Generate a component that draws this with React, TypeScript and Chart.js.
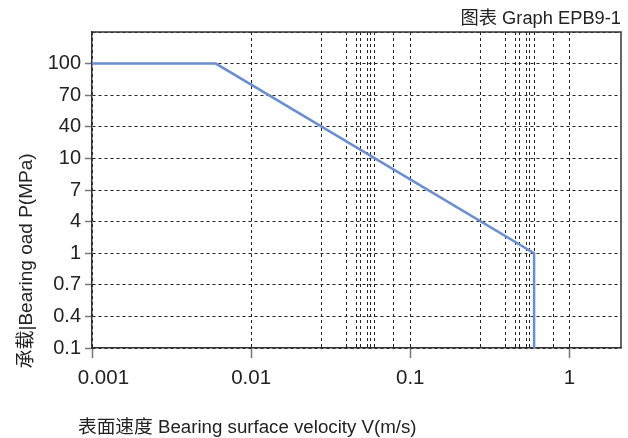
import React, { useEffect, useRef } from 'react';
import { Chart, registerables } from 'chart.js';

Chart.register(...registerables);

// ---- data ----
const velocity = [0.001, 0.006, 0.6, 0.6];
const bearingLoad = [100, 100, 1, 0.1];
const yTickValues = [0.1, 0.4, 0.7, 1, 4, 7, 10, 40, 70, 100];
const xMajorTicks = [0.001, 0.01, 0.1, 1];
const xTickLabels = ['0.001', '0.01', '0.1', '1'];
const xMinorTicks = [
  0.0275, 0.0395, 0.046, 0.0485, 0.054, 0.0565, 0.06, 0.079,
  0.275, 0.395, 0.46, 0.485, 0.54, 0.565, 0.6, 0.79,
];
const chartTitle = '图表 Graph EPB9-1';
const xTitle = '表面速度 Bearing surface velocity V(m/s)';
const yTitle = '承载|Bearing oad P(MPa)';
const X_MIN = 0.001;
const X_MAX = 2.11;

const FONT = '"Liberation Sans", Arial, "Noto Sans CJK SC", sans-serif';
const TRANSPARENT = 'rgba(0,0,0,0)';

const decor = {
  id: 'decor',
  afterDraw(chart: any) {
    const { ctx, chartArea: a } = chart;
    ctx.save();
    ctx.strokeStyle = '#333';
    ctx.lineWidth = 1.5;
    ctx.setLineDash([]);
    ctx.beginPath();
    ctx.moveTo(a.left, a.top);
    ctx.lineTo(a.right, a.top);
    ctx.lineTo(a.right, a.bottom);
    ctx.stroke();

    ctx.fillStyle = '#222';
    ctx.textBaseline = 'alphabetic';
    ctx.font = `18.3px ${FONT}`;
    ctx.textAlign = 'right';
    ctx.fillText(chartTitle, 621, 24);

    ctx.font = `18.7px ${FONT}`;
    ctx.textAlign = 'left';
    ctx.fillText(xTitle, 78, 433);

    ctx.font = `19px ${FONT}`;
    ctx.translate(32, 261);
    ctx.rotate(-Math.PI / 2);
    ctx.textAlign = 'center';
    ctx.fillText(yTitle, 0, 0);
    ctx.restore();
  },
};

export default function App() {
  const ref = useRef<HTMLCanvasElement | null>(null);

  useEffect(() => {
    if (!ref.current) return;
    const points = velocity.map((v, i) => ({
      x: v,
      y: yTickValues.indexOf(bearingLoad[i]),
    }));
    const allX = [...xMajorTicks, ...xMinorTicks].sort((a, b) => a - b);

    const chart = new Chart(ref.current, {
      type: 'line',
      data: {
        datasets: [
          {
            data: points,
            borderColor: '#6b8ecf',
            borderWidth: 2.5,
            pointRadius: 0,
            fill: false,
            tension: 0,
          },
        ],
      },
      options: {
        responsive: false,
        animation: false,
        events: [],
        layout: { padding: { top: 32, right: 7, left: 0, bottom: 0 } },
        plugins: {
          legend: { display: false },
          tooltip: { enabled: false },
          title: { display: false },
        },
        scales: {
          x: {
            type: 'logarithmic',
            min: X_MIN,
            max: X_MAX,
            afterBuildTicks: (s: any) => {
              s.ticks = allX.map((v) => ({ value: v }));
            },
            afterFit: (s: any) => {
              s.height = 90;
            },
            grid: {
              color: '#222',
              lineWidth: 1,
              tickLength: 10,
              tickWidth: 1.5,
              tickBorderDash: [],
              tickColor: (c: any) =>
                c.tick && xMajorTicks.includes(c.tick.value) ? '#777' : TRANSPARENT,
            },
            border: { display: true, color: '#333', width: 1.5, dash: [3, 3] },
            ticks: {
              autoSkip: false,
              maxRotation: 0,
              minRotation: 0,
              padding: 8,
              color: '#222',
              font: { family: FONT, size: 20.5 },
              callback: (_v: any, i: number, ticks: any[]) => {
                const k = xMajorTicks.indexOf(ticks[i].value);
                if (k < 0) return '';
                return (k === 0 ? '    ' : '') + xTickLabels[k];
              },
            },
          },
          y: {
            type: 'linear',
            min: 0,
            max: 10,
            afterBuildTicks: (s: any) => {
              s.ticks = yTickValues.map((_, i) => ({ value: i })).concat([{ value: 10 }]);
            },
            afterFit: (s: any) => {
              s.width = 92;
            },
            grid: {
              color: '#222',
              lineWidth: 1,
              tickLength: 7,
              tickWidth: 1.5,
              tickBorderDash: [],
              tickColor: (c: any) =>
                c.tick && c.tick.value < yTickValues.length ? '#777' : TRANSPARENT,
            },
            border: { display: true, color: '#333', width: 1.5, dash: [3, 3] },
            ticks: {
              padding: 4,
              color: '#222',
              font: { family: FONT, size: 20 },
              callback: (v: any) =>
                v < yTickValues.length ? String(yTickValues[v]) : '',
            },
          },
        },
      },
      plugins: [decor],
    } as any);

    return () => chart.destroy();
  }, []);

  return (
    <div style={{ position: 'absolute', left: 0, top: 0, width: 628, height: 438 }}>
      <canvas ref={ref} width={628} height={438} style={{ display: 'block' }} />
    </div>
  );
}
